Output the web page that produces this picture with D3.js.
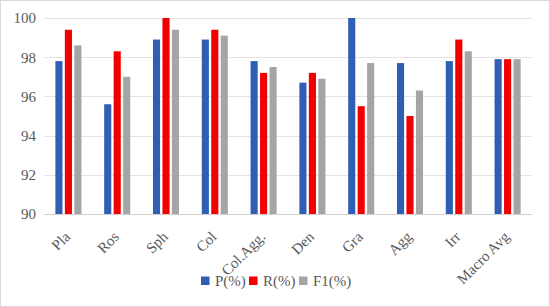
<!DOCTYPE html>
<html>
<head>
<meta charset="utf-8">
<script src="https://cdn.jsdelivr.net/npm/d3@7"></script>
<style>
  body { margin: 0; background: #fff; }
  svg text { font-family: "Liberation Serif", "DejaVu Serif", serif; fill: #595959; }
</style>
</head>
<body>
<div id="chart"></div>
<script>
// ---------- DATA ----------
const categories = ["Pla", "Ros", "Sph", "Col", "Col.Agg.", "Den", "Gra", "Agg", "Irr", "Macro Avg"];
const seriesNames = ["P(%)", "R(%)", "F1(%)"];
const precision = [97.8, 95.6, 98.9, 98.9, 97.8, 96.7, 100, 97.7, 97.8, 97.9];
const recall    = [99.4, 98.3, 100, 99.4, 97.2, 97.2, 95.5, 95.0, 98.9, 97.9];
const f1        = [98.6, 97.0, 99.4, 99.1, 97.5, 96.9, 97.7, 96.3, 98.3, 97.9];
const yTicks = [90, 92, 94, 96, 98, 100];

const colors = ["#2F5EB3", "#F20000", "#A5A5A5"];
const allSeries = [precision, recall, f1];

// ---------- SETUP ----------
const W = 550, H = 307;
const margin = {top: 18, right: 18, bottom: 93, left: 44};

const svg = d3.select("#chart").append("svg")
  .attr("width", W).attr("height", H);

svg.append("rect")
  .attr("x", 0.5).attr("y", 0.5)
  .attr("width", W - 1).attr("height", H - 1)
  .attr("fill", "#fff").attr("stroke", "#d9d9d9");

const x = d3.scaleBand().domain(categories)
  .range([margin.left, W - margin.right]);
const xs = d3.scaleBand().domain(d3.range(3))
  .range([0, x.bandwidth()]).paddingInner(0.25).paddingOuter(1.2);
const y = d3.scaleLinear().domain([90, 100])
  .range([214, margin.top]);

// gridlines
svg.append("g").selectAll("line").data(yTicks).join("line")
  .attr("x1", margin.left).attr("x2", W - margin.right)
  .attr("y1", d => Math.round(y(d)) + 0.5).attr("y2", d => Math.round(y(d)) + 0.5)
  .attr("stroke", d => d === 90 ? "#d0d0d0" : "#e3e3e3");

// y labels
const yAxis = d3.axisLeft(y).tickValues(yTicks).tickSize(0).tickPadding(8);
const gy = svg.append("g").attr("transform", `translate(${margin.left},0)`).call(yAxis);
gy.select(".domain").remove();
gy.selectAll("text").attr("font-size", 15).style("fill", "#595959")
  .attr("font-family", "Liberation Serif");

// bars
const groups = svg.append("g").selectAll("g").data(categories).join("g")
  .attr("transform", d => `translate(${x(d)},0)`);
groups.selectAll("rect")
  .data((c, i) => allSeries.map((s, k) => ({k, v: s[i]})))
  .join("rect")
  .attr("x", d => xs(d.k))
  .attr("width", xs.bandwidth())
  .attr("y", d => y(d.v))
  .attr("height", d => y(90) - y(d.v))
  .attr("fill", d => colors[d.k]);

// x labels rotated
const xAxis = d3.axisBottom(x).tickSize(0).tickPadding(0);
const gx = svg.append("g").attr("transform", `translate(0,${y(90)})`).call(xAxis);
gx.select(".domain").remove();
gx.selectAll("text")
  .attr("font-size", 15).style("fill", "#595959")
  .attr("font-family", "Liberation Serif")
  .attr("text-anchor", "end")
  .attr("dy", "0.35em")
  .attr("transform", "translate(-1,20) rotate(-45)");

// legend
const legend = svg.append("g").attr("transform", "translate(201,281)");
const legItems = legend.selectAll("g").data(seriesNames).join("g")
  .attr("transform", (d, i) => `translate(${[0, 48, 98][i]},0)`);
legItems.append("rect").attr("x", 0).attr("y", -4.5).attr("width", 8.5).attr("height", 8.5)
  .attr("fill", (d, i) => colors[i]);
legItems.append("text").attr("x", 14).attr("y", 0).attr("dy", "0.35em")
  .attr("font-size", 15).text(d => d);
</script>
</body>
</html>
